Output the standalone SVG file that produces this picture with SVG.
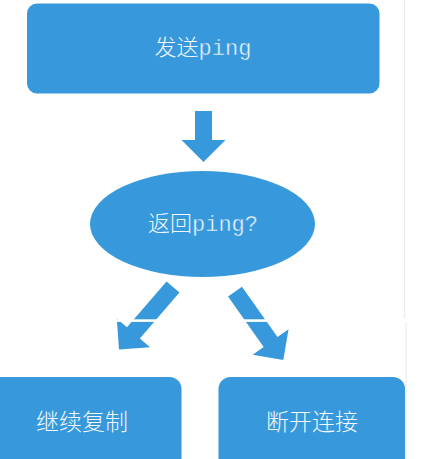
<svg xmlns="http://www.w3.org/2000/svg" width="434" height="459" viewBox="0 0 434 459">
<style>
.shape{fill:#3799db}
.lbl{fill:#f2f8fd;font-family:"Noto Sans CJK SC","Noto Sans",sans-serif;font-weight:300;text-anchor:middle}
.mono{font-family:"Liberation Mono","DejaVu Sans Mono",monospace;font-weight:normal;stroke:#3799db;stroke-width:0.45}
.sep{stroke:#ececec;stroke-width:1.2}
</style>
<rect width="434" height="459" fill="#ffffff"/>
<line class="sep" x1="404.5" y1="0" x2="404.5" y2="318"/>
<line class="sep" x1="406" y1="322" x2="406" y2="459"/>
<g id="node-send">
<rect class="shape" x="27" y="3.5" width="352.5" height="90" rx="10"/>
<text class="lbl" x="203" y="55" font-size="22">发送<tspan class="mono">ping</tspan></text>
</g>
<g id="node-check">
<ellipse class="shape" cx="202.5" cy="224" rx="112.5" ry="53"/>
<text class="lbl" x="203" y="231" font-size="22">返回<tspan class="mono">ping?</tspan></text>
</g>
<g id="node-continue">
<rect class="shape" x="-20" y="377" width="201.5" height="120" rx="12"/>
<text class="lbl" x="82" y="430" font-size="23">继续复制</text>
</g>
<g id="node-disconnect">
<rect class="shape" x="218.5" y="377" width="186.5" height="120" rx="12"/>
<text class="lbl" x="312" y="430" font-size="23">断开连接</text>
</g>
<g id="connectors">
<polygon class="shape" transform="translate(203.5,111) rotate(90)" points="0,-8.5 29,-8.5 29,-22 51,0 29,22 29,8.5 0,8.5"/>
<polygon class="shape" transform="translate(173,287) rotate(130.8)" points="0,-8.5 60.6,-8.5 60.6,-22 82.6,0 60.6,22 60.6,8.5 0,8.5"/>
<polygon class="shape" transform="translate(235,291.7) rotate(54.7)" points="0,-8.5 61.6,-8.5 61.6,-22 83.6,0 61.6,22 61.6,8.5 0,8.5"/>
</g>
<rect x="100" y="319.3" width="200" height="2.6" fill="#ffffff"/>
</svg>
